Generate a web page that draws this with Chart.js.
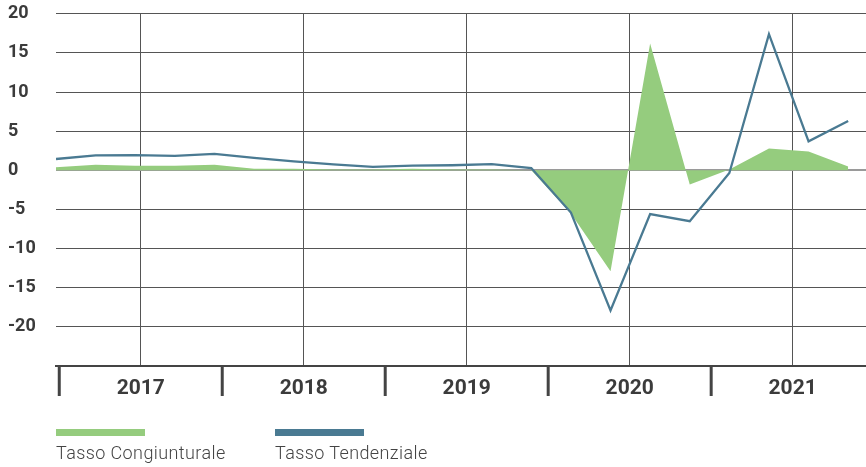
<!DOCTYPE html>
<html lang="it">
<head>
<meta charset="utf-8">
<title>Tasso congiunturale e tendenziale</title>
<script src="https://cdn.jsdelivr.net/npm/chart.js@4.4.1/dist/chart.umd.min.js"></script>
<style>
  html, body { margin: 0; padding: 0; background: #fff; }
  .wrap { position: relative; width: 866px; height: 467px; font-family: Roboto, 'Noto Sans', sans-serif; }
  .wrap canvas { position: absolute; left: 0; top: 0; }
  .legend-item { position: absolute; top: 429px; }
  .legend-swatch { width: 89px; height: 7px; }
  .legend-label { margin-top: 8px; font-size: 18px; font-weight: 300; line-height: 18px; letter-spacing: 0.4px; color: #444; white-space: nowrap; }
</style>
</head>
<body>
<div class="wrap">
  <canvas id="chart" width="866" height="467"></canvas>
  <div class="legend-item" style="left:56px">
    <div class="legend-swatch" style="background:#95cc7e"></div>
    <div class="legend-label">Tasso Congiunturale</div>
  </div>
  <div class="legend-item" style="left:275px">
    <div class="legend-swatch" style="background:#4a7a92"></div>
    <div class="legend-label">Tasso Tendenziale</div>
  </div>
</div>
<script>
// trimestri: IV 2016 ... IV 2021
const quarters = [
    'IV-2016',
    'I-2017', 'II-2017', 'III-2017', 'IV-2017',
    'I-2018', 'II-2018', 'III-2018', 'IV-2018',
    'I-2019', 'II-2019', 'III-2019', 'IV-2019',
    'I-2020', 'II-2020', 'III-2020', 'IV-2020',
    'I-2021', 'II-2021', 'III-2021', 'IV-2021',
];
const congiunturale = [0.4, 0.7, 0.6, 0.6, 0.7, 0.2, 0.2, 0.1, 0.1, 0.2, 0.1, 0.1, 0.0, -5.5, -12.9, 16.2, -1.8, 0.1, 2.8, 2.4, 0.5];
const tendenziale = [1.45, 1.9, 1.95, 1.85, 2.1, 1.6, 1.15, 0.75, 0.45, 0.6, 0.65, 0.8, 0.3, -5.4, -17.9, -5.6, -6.5, -0.35, 17.4, 3.7, 6.3];
const years = [2017, 2018, 2019, 2020, 2021];
const yTicks = [20, 15, 10, 5, 0, -5, -10, -15, -20, -25];

function toPoints(values) {
    return values.map((v, i) => ({ x: i, y: v }));
}

const textColor = '#3b3b3b';
const gridColor = '#555';

// tacche verticali che separano gli anni sotto l'asse
const yearSeparators = {
    id: 'yearSeparators',
    afterDraw(chart) {
        const scale = chart.scales.years;
        const ctx = chart.ctx;
        ctx.save();
        ctx.strokeStyle = '#444';
        ctx.lineWidth = 3;
        years.concat([years[years.length - 1] + 1]).forEach((year) => {
            const x = scale.getPixelForValue(year - 0.5);
            ctx.beginPath();
            ctx.moveTo(x, scale.top);
            ctx.lineTo(x, scale.top + 30);
            ctx.stroke();
        });
        ctx.restore();
    },
};

new Chart(document.getElementById('chart').getContext('2d'), {
    type: 'line',
    data: {
        labels: quarters,
        datasets: [
            {
                label: 'Tasso Tendenziale',
                data: toPoints(tendenziale),
                borderColor: '#4a7a92',
                borderWidth: 2.3,
                pointRadius: 0,
                fill: false,
                tension: 0,
                order: 1,
            },
            {
                label: 'Tasso Congiunturale',
                data: toPoints(congiunturale),
                backgroundColor: '#95cc7e',
                borderColor: '#95cc7e',
                borderWidth: 0,
                pointRadius: 0,
                fill: 'origin',
                tension: 0,
                order: 2,
            },
        ],
    },
    options: {
        responsive: false,
        animation: false,
        layout: { padding: { left: 8, top: 13, right: 0, bottom: 0 } },
        plugins: {
            legend: { display: false },
            tooltip: { enabled: false },
        },
        scales: {
            x: {
                type: 'linear',
                display: false,
                min: 0,
                max: 20.45,
            },
            years: {
                type: 'linear',
                position: 'bottom',
                min: 2016.48,
                max: 2021.45,
                afterBuildTicks(scale) {
                    scale.ticks = years.map((value) => ({ value }));
                },
                afterFit(scale) {
                    scale.height = 101;
                },
                grid: {
                    color: gridColor,
                    lineWidth: 1,
                    drawTicks: false,
                },
                border: { display: true, color: '#444', width: 2 },
                ticks: {
                    padding: 10,
                    color: textColor,
                    font: { family: 'Roboto', size: 21, weight: 'bold' },
                    callback: (value) => String(value),
                },
            },
            y: {
                min: -25,
                max: 20,
                afterBuildTicks(scale) {
                    scale.ticks = yTicks.map((value) => ({ value }));
                },
                afterFit(scale) {
                    scale.width = 48;
                },
                border: { display: false },
                grid: {
                    drawTicks: false,
                    color: (ctx) => (ctx.tick && ctx.tick.value === 0 ? '#9a9a9a' : gridColor),
                    lineWidth: (ctx) => (ctx.tick && ctx.tick.value === 0 ? 2 : 1),
                },
                ticks: {
                    crossAlign: 'far',
                    color: textColor,
                    font: { family: 'Roboto', size: 18, weight: 'bold' },
                    callback: (value) => (value < -20 ? '' : String(value)),
                },
            },
        },
    },
    plugins: [yearSeparators],
});
</script>
</body>
</html>
